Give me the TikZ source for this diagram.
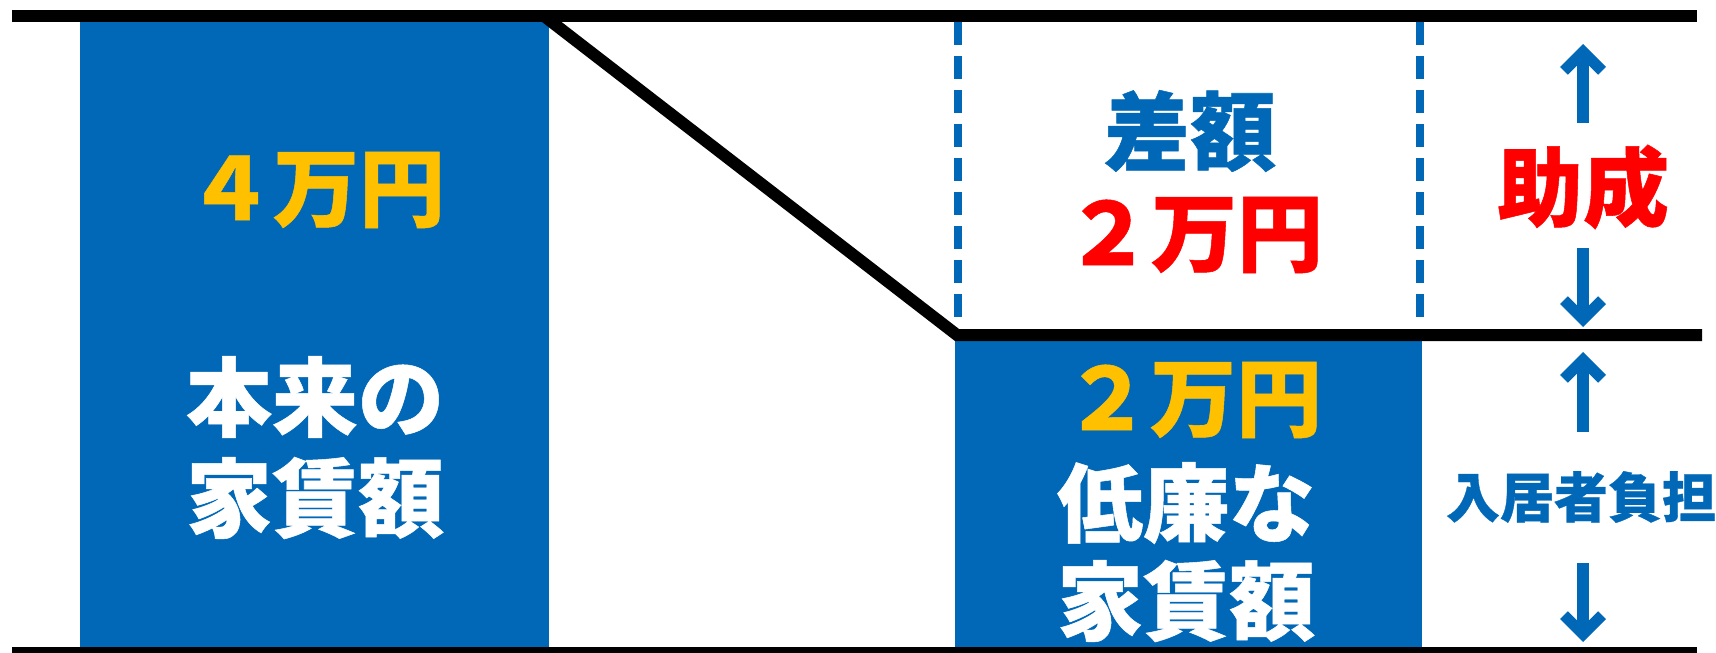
\documentclass[tikz,border=0pt]{standalone}
\usepackage{fontspec}
\newfontfamily\cjk{Noto Sans CJK JP}[BoldFeatures={FakeBold=0.6}]
\usetikzlibrary{arrows.meta}
\definecolor{kblue}{HTML}{0068B7}
\definecolor{korange}{HTML}{FFC000}
\definecolor{kred}{HTML}{FF0000}
\tikzset{
  barline/.style={line width=12pt, draw=black, line join=miter},
  dashline/.style={draw=kblue, line width=7.5pt, dash pattern=on 23pt off 11pt},
  blk/.style={fill=kblue, draw=none},
  big/.style={font=\cjk\bfseries\fontsize{86}{90}\selectfont, inner sep=0pt, anchor=center},
  mid/.style={font=\cjk\bfseries\fontsize{54}{60}\selectfont, inner sep=0pt, anchor=center},
  darr/.style={draw=kblue, line width=12pt, -{Straight Barb[length=19pt,width=38pt,line width=11pt]}},
}
\begin{document}
\begin{tikzpicture}[x=1pt,y=-1pt]
\useasboundingbox (0,0) rectangle (1716,653);
\clip (0,0) rectangle (1716,653);
% coordinates
\coordinate (TL) at (12,16);
\coordinate (TR) at (1697,16);
\coordinate (BL) at (12,653);
\coordinate (BR) at (1697,653);
\coordinate (D1) at (544,16);
\coordinate (D2) at (957,335);
\coordinate (ME) at (1702,335);
\coordinate (L1a) at (958,22);
\coordinate (L1b) at (958,328);
\coordinate (L2a) at (1420,22);
\coordinate (L2b) at (1420,328);
% blue blocks
\fill[blk] (80,16) rectangle (549,653);
\fill[blk] (955,335) rectangle (1422,653);
% dashed
\draw[dashline] (L1a) -- (L1b);
\draw[dashline] (L2a) -- (L2b);
% lines
\draw[barline] (TL) -- (TR);
\draw[barline] (BL) -- (BR);
\draw[barline] (D1) -- (D2) -- (ME);
% texts
\node[big, text=korange] (t4) at (316,190) {４万円};
\node[big, text=white] (hon) at (315,397) {本来の};
\node[big, text=white] (yal) at (315,498) {家賃額};
\node[big, text=kblue] (sa) at (1190,131) {差額};
\node[big, text=kred] (t2r) at (1194,235) {２万円};
\node[big, text=korange] (t2o) at (1193,400) {２万円};
\node[big, text=white] (tei) at (1186,503) {低廉な};
\node[big, text=white] (yar) at (1186,601) {家賃額};
\node[big, text=kred] (jo) at (1583,187) {助成};
\node[mid, text=kblue] (nyu) at (1581,497) {入居者負担};
% arrows
\coordinate (a1t) at (1583,123);
\coordinate (a1h) at (1583,44);
\coordinate (a2t) at (1583,248);
\coordinate (a2h) at (1583,327);
\coordinate (a3t) at (1583,432);
\coordinate (a3h) at (1583,352);
\coordinate (a4t) at (1583,563);
\coordinate (a4h) at (1583,642);
\draw[darr] (a1t) -- (a1h);
\draw[darr] (a2t) -- (a2h);
\draw[darr] (a3t) -- (a3h);
\draw[darr] (a4t) -- (a4h);
\end{tikzpicture}
\end{document}
